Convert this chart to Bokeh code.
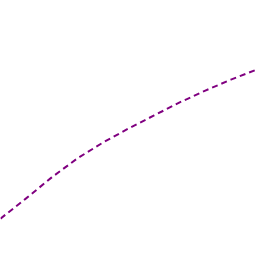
from bokeh.plotting import figure
from bokeh.embed import file_html
from bokeh.resources import INLINE
from bokeh.models import Range1d

x_values = [0, 1, 2, 3, 4, 5, 6, 7, 8, 9, 10]
y_values = [1.48, 2.27, 3.09, 3.83, 4.45, 5.0, 5.51, 6.02, 6.48, 6.91, 7.30]

p = figure(width=256, height=256, output_backend="svg", toolbar_location=None,
           x_range=Range1d(0, 10), y_range=Range1d(0, 10),
           min_border=0, min_border_left=0, min_border_right=0,
           min_border_top=0, min_border_bottom=0)
p.axis.visible = False
p.grid.visible = False
p.outline_line_color = None
p.background_fill_color = "white"
p.border_fill_color = "white"

p.line(x_values, y_values, line_color="#800080", line_width=2, line_dash="6 4")

open("out.html", "w").write(file_html(p, INLINE))
